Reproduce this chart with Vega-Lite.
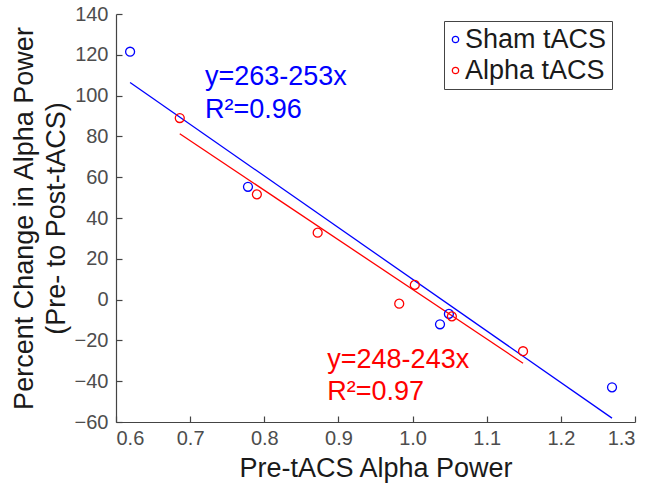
{
  "$schema": "https://vega.github.io/schema/vega-lite/v6.json",
  "width": 519,
  "height": 408,
  "autosize": {"type": "none"},
  "padding": {"left": 116, "top": 14, "right": 13, "bottom": 64},
  "background": "white",
  "config": {
    "view": {"stroke": null},
    "font": "Liberation Sans",
    "axis": {
      "grid": false,
      "domainColor": "#444444",
      "tickColor": "#444444",
      "labelColor": "#4d4d4d",
      "titleColor": "#1a1a1a",
      "labelFont": "Liberation Sans",
      "titleFont": "Liberation Sans",
      "labelFontSize": 20,
      "titleFontSize": 27,
      "titleFontWeight": "normal",
      "tickSize": -6,
      "domainWidth": 1.2,
      "tickWidth": 1.2
    }
  },
  "resolve": {"legend": {"color": "independent"}},
  "datasets": {
    "points": [
      {"group": "Sham tACS", "pre": 0.619, "change": 121.5},
      {"group": "Sham tACS", "pre": 0.778, "change": 55.3},
      {"group": "Sham tACS", "pre": 1.037, "change": -12.1},
      {"group": "Sham tACS", "pre": 1.049, "change": -7.0},
      {"group": "Sham tACS", "pre": 1.269, "change": -43.0},
      {"group": "Alpha tACS", "pre": 0.686, "change": 89.0},
      {"group": "Alpha tACS", "pre": 0.790, "change": 51.6},
      {"group": "Alpha tACS", "pre": 0.872, "change": 32.8},
      {"group": "Alpha tACS", "pre": 0.982, "change": -2.0},
      {"group": "Alpha tACS", "pre": 1.003, "change": 7.2},
      {"group": "Alpha tACS", "pre": 1.053, "change": -8.2},
      {"group": "Alpha tACS", "pre": 1.149, "change": -25.3}
    ],
    "fits": [
      {"group": "Sham tACS", "pre": 0.619, "change": 106.4},
      {"group": "Sham tACS", "pre": 1.269, "change": -58.1},
      {"group": "Alpha tACS", "pre": 0.686, "change": 81.3},
      {"group": "Alpha tACS", "pre": 1.149, "change": -31.2}
    ],
    "notes": [
      {"group": "Sham tACS", "pre": 0.720, "change": 105.2, "label": "y=263-253x"},
      {"group": "Sham tACS", "pre": 0.720, "change": 89.0, "label": "R²=0.96"},
      {"group": "Alpha tACS", "pre": 0.885, "change": -33.5, "label": "y=248-243x"},
      {"group": "Alpha tACS", "pre": 0.885, "change": -49.2, "label": "R²=0.97"}
    ]
  },
  "layer": [
    {
      "data": {"name": "fits"},
      "mark": {"type": "line", "strokeWidth": 1.3},
      "encoding": {
        "x": {"field": "pre", "type": "quantitative", "scale": {"domain": [0.6, 1.3], "nice": false, "zero": false}},
        "y": {"field": "change", "type": "quantitative", "scale": {"domain": [-60, 140], "nice": false, "zero": false}},
        "color": {"field": "group", "type": "nominal", "scale": {"domain": ["Sham tACS", "Alpha tACS"], "range": ["#0000ff", "#ff0000"]}, "legend": null},
        "detail": {"field": "group"}
      }
    },
    {
      "data": {"name": "points"},
      "mark": {"type": "point", "shape": "circle", "filled": false, "size": 80, "strokeWidth": 1.3, "opacity": 1},
      "encoding": {
        "x": {
          "field": "pre", "type": "quantitative",
          "scale": {"domain": [0.6, 1.3], "nice": false, "zero": false},
          "axis": {"values": [0.6, 0.7, 0.8, 0.9, 1.0, 1.1, 1.2, 1.3], "format": ".1f", "title": "Pre-tACS Alpha Power", "labelPadding": 12, "titlePadding": 7}
        },
        "y": {
          "field": "change", "type": "quantitative",
          "scale": {"domain": [-60, 140], "nice": false, "zero": false},
          "axis": {"values": [-60, -40, -20, 0, 20, 40, 60, 80, 100, 120, 140], "format": "d", "title": ["Percent Change in Alpha Power", "(Pre- to Post-tACS)"], "labelPadding": 14, "titlePadding": 4, "titleLineHeight": 32}
        },
        "color": {
          "field": "group", "type": "nominal",
          "scale": {"domain": ["Sham tACS", "Alpha tACS"], "range": ["#0000ff", "#ff0000"]},
          "legend": {
            "orient": "none", "legendX": 328, "legendY": 7, "title": null,
            "strokeColor": "#444444", "fillColor": "white", "padding": 5,
            "labelFontSize": 27, "labelFont": "Liberation Sans", "labelColor": "#1a1a1a",
            "symbolSize": 40, "symbolStrokeWidth": 1.3, "symbolType": "circle",
            "symbolOffset": -7, "labelOffset": -4, "rowPadding": 3
          }
        }
      }
    },
    {
      "data": {"name": "notes"},
      "mark": {"type": "text", "align": "left", "baseline": "alphabetic", "fontSize": 27, "font": "Liberation Sans"},
      "encoding": {
        "x": {"field": "pre", "type": "quantitative", "scale": {"domain": [0.6, 1.3], "nice": false, "zero": false}},
        "y": {"field": "change", "type": "quantitative", "scale": {"domain": [-60, 140], "nice": false, "zero": false}},
        "text": {"field": "label"},
        "color": {"field": "group", "type": "nominal", "scale": {"domain": ["Sham tACS", "Alpha tACS"], "range": ["#0000ff", "#ff0000"]}, "legend": null}
      }
    }
  ]
}
